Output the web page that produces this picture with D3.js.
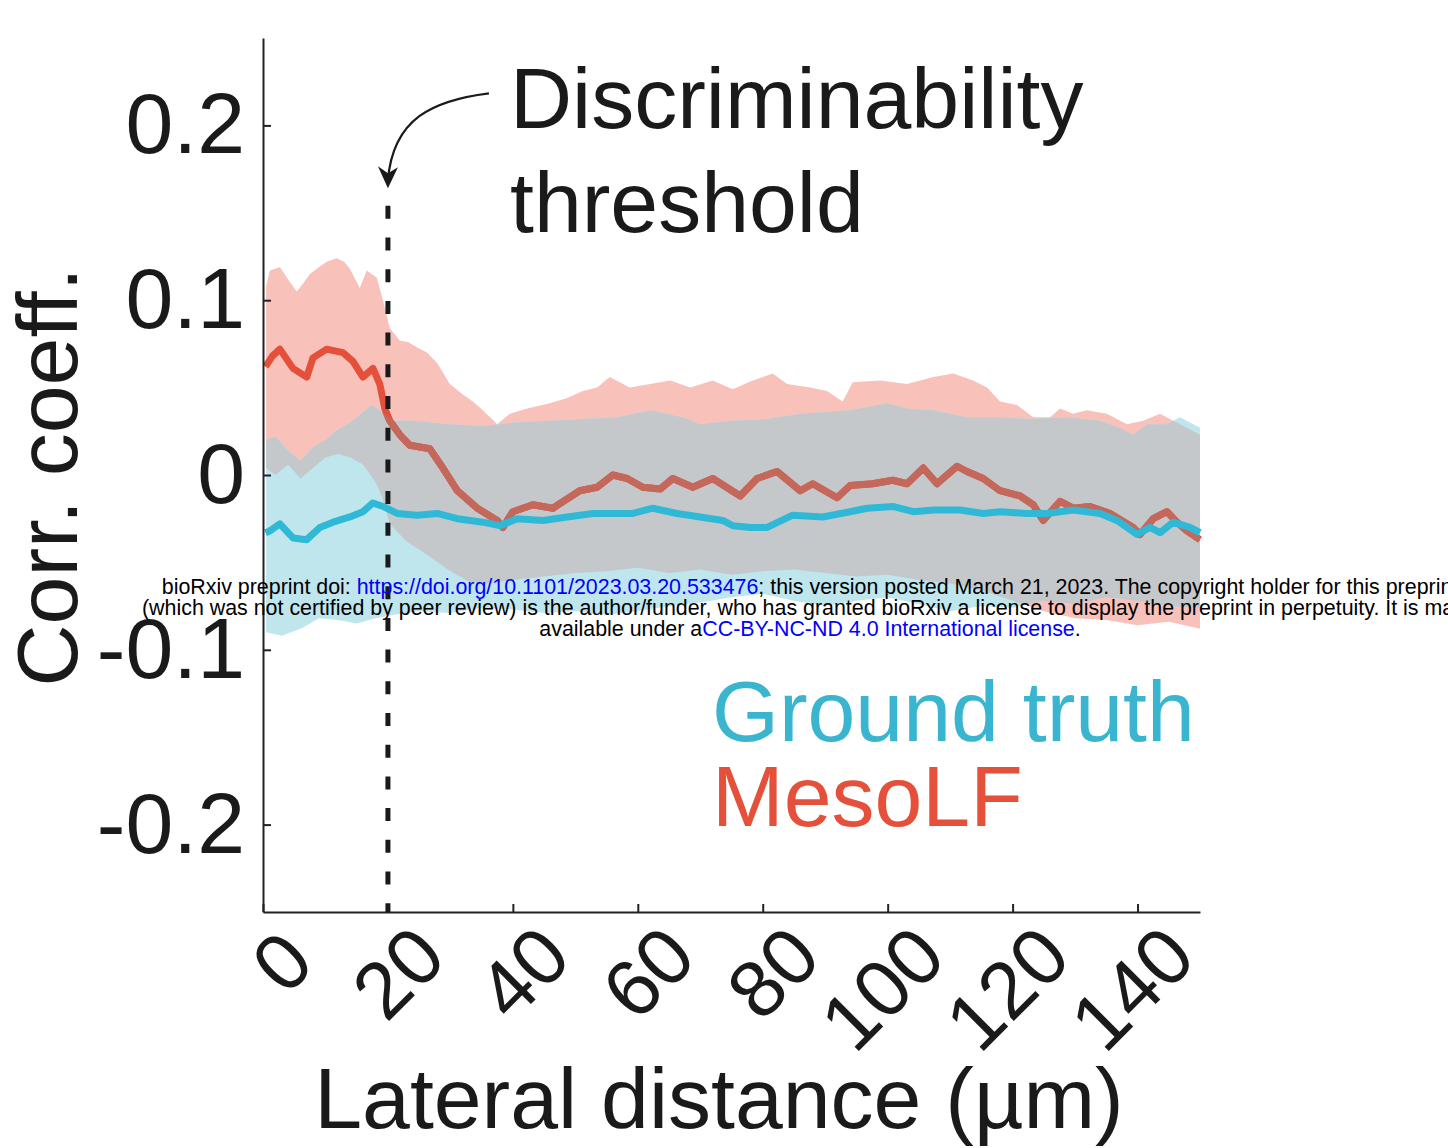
<!DOCTYPE html>
<html>
<head>
<meta charset="utf-8">
<script src="https://cdn.jsdelivr.net/npm/d3@7"></script>
<style>
  html, body { margin: 0; padding: 0; background: #fff; }
  svg { display: block; }
  text { font-family: "Liberation Sans", Arial, Helvetica, sans-serif; }
</style>
</head>
<body>
<svg id="chart" width="1448" height="1148"></svg>
<script>
// Lateral distance (µm) vs correlation coefficient: mean and spread for MesoLF and ground truth.
const xTicks = [0, 20, 40, 60, 80, 100, 120, 140];
const yTicks = [-0.2, -0.1, 0, 0.1, 0.2];
const thresholdDistance = 20;

const mesoMean = [[0.4,0.062],[1.5,0.068],[2.7,0.072],[4.8,0.061],[7.0,0.056],[8.0,0.067],[10.2,0.072],[12.8,0.070],[14.4,0.065],
  [16.0,0.056],[17.6,0.061],[18.7,0.052],[19.5,0.038],[20.3,0.031],[21.9,0.023],[23.5,0.017],[26.7,0.015],[28.8,0.004],
  [31.1,-0.009],[34.3,-0.019],[37.5,-0.026],[38.4,-0.030],[40.0,-0.021],[43.2,-0.017],[46.4,-0.019],[50.7,-0.009],
  [53.5,-0.007],[56.0,0.000],[58.3,-0.002],[60.8,-0.007],[63.6,-0.008],[65.6,-0.002],[68.8,-0.007],[72.0,-0.002],
  [76.4,-0.012],[79.1,-0.002],[82.3,0.002],[86.0,-0.009],[88.0,-0.005],[91.9,-0.013],[94.0,-0.006],[97.6,-0.005],
  [100.8,-0.003],[103.1,-0.005],[105.7,0.004],[107.9,-0.005],[111.1,0.005],[112.7,0.002],[115.3,-0.002],[118.0,-0.009],
  [121.2,-0.012],[123.3,-0.017],[124.9,-0.026],[127.6,-0.015],[129.7,-0.019],[132.4,-0.018],[135.6,-0.022],[139.3,-0.030],
  [140.4,-0.034],[142.5,-0.025],[144.7,-0.021],[146.3,-0.027],[147.9,-0.032],[150.0,-0.037]];

const truthMean = [[0.4,-0.033],[1.1,-0.032],[2.7,-0.028],[4.8,-0.036],[7.0,-0.037],[9.1,-0.030],[11.2,-0.027],[13.9,-0.024],
  [16.0,-0.021],[17.6,-0.016],[19.2,-0.018],[21.5,-0.022],[24.7,-0.023],[27.9,-0.022],[31.1,-0.025],[35.2,-0.027],
  [37.9,-0.029],[40.7,-0.025],[44.8,-0.026],[48.7,-0.024],[52.8,-0.022],[56.7,-0.022],[59.2,-0.022],[62.4,-0.019],
  [66.3,-0.022],[70.0,-0.024],[73.6,-0.026],[75.2,-0.029],[78.0,-0.030],[80.7,-0.030],[84.8,-0.023],[89.6,-0.024],
  [94.0,-0.021],[96.7,-0.019],[100.8,-0.018],[104.1,-0.021],[107.3,-0.020],[111.6,-0.020],[115.3,-0.022],[118.0,-0.021],
  [122.3,-0.022],[125.5,-0.022],[129.7,-0.020],[134.0,-0.022],[136.7,-0.026],[139.9,-0.034],[142.0,-0.030],[143.6,-0.033],
  [145.7,-0.027],[148.4,-0.030],[150.0,-0.033]];

const mesoUpper = [[0.5,0.108],[1.1,0.117],[2.7,0.119],[4.0,0.112],[5.4,0.105],[6.5,0.110],[7.5,0.115],[9.0,0.119],[10.2,0.122],
  [11.8,0.124],[13.0,0.122],[13.9,0.118],[15.5,0.107],[16.6,0.117],[18.2,0.113],[19.2,0.100],[20.3,0.084],[21.9,0.077],
  [23.3,0.076],[24.7,0.073],[26.3,0.070],[27.9,0.064],[29.9,0.052],[32.0,0.046],[33.6,0.042],[35.2,0.037],[37.5,0.029],
  [39.5,0.035],[42.3,0.038],[45.9,0.041],[48.7,0.044],[51.2,0.048],[53.5,0.050],[55.5,0.056],[58.7,0.050],[62.0,0.052],
  [65.2,0.054],[68.4,0.050],[72.0,0.054],[75.2,0.049],[78.4,0.054],[81.6,0.058],[83.9,0.052],[87.6,0.050],[90.3,0.048],
  [92.8,0.042],[94.4,0.053],[98.8,0.054],[103.1,0.052],[107.3,0.056],[110.5,0.058],[113.7,0.054],[115.9,0.050],[118.0,0.042],
  [120.7,0.040],[123.3,0.033],[126.0,0.033],[127.6,0.038],[129.7,0.035],[131.9,0.037],[135.1,0.035],[138.3,0.029],
  [140.9,0.031],[143.6,0.035],[145.7,0.031],[147.9,0.027],[150.0,0.023]];

const mesoLower = [[0.5,0.004],[2,0.000],[4,0.006],[6,-0.002],[8,0.004],[10,0.010],[12,0.012],[14,0.010],[16,0.006],[18,-0.004],
  [19,-0.012],[20.3,-0.028],[23,-0.038],[26,-0.045],[30,-0.055],[33,-0.061],[36,-0.062],[40,-0.060],[45,-0.058],[50,-0.056],
  [55,-0.055],[60,-0.053],[65,-0.056],[70,-0.054],[75,-0.057],[80,-0.055],[85,-0.054],[90,-0.056],[95,-0.058],[100,-0.057],
  [105,-0.060],[110,-0.062],[115,-0.066],[120,-0.072],[125,-0.078],[130,-0.082],[135,-0.083],[140,-0.086],[145,-0.084],[150,-0.088]];

const truthUpper = [[0.5,0.020],[2,0.022],[4,0.014],[6,0.008],[8,0.016],[10,0.020],[12,0.026],[14,0.030],[16,0.036],[17.5,0.040],
  [19,0.036],[21,0.031],[24,0.031],[27,0.030],[30,0.029],[35.2,0.028],[40,0.030],[45.9,0.031],[51,0.032],[56.7,0.033],
  [62.0,0.037],[67.2,0.033],[70.0,0.029],[75,0.031],[80.7,0.032],[86.0,0.035],[94.0,0.037],[99.9,0.041],[103.1,0.038],
  [107.3,0.037],[112.7,0.033],[118.0,0.033],[123.3,0.032],[128.7,0.033],[134.0,0.031],[137.2,0.027],[139.3,0.023],
  [141.5,0.029],[144.7,0.029],[146.8,0.033],[150.0,0.027]];

const truthLower = [[0.5,-0.090],[3,-0.092],[6,-0.088],[9,-0.082],[12,-0.083],[15,-0.085],[18,-0.082],[21,-0.080],[25,-0.078],
  [30,-0.079],[35,-0.076],[40,-0.077],[45,-0.079],[50,-0.078],[55,-0.080],[60,-0.078],[65,-0.075],[70,-0.073],[75,-0.070],
  [80,-0.068],[85,-0.072],[90,-0.075],[95,-0.072],[100,-0.070],[105,-0.074],[110,-0.078],[115,-0.075],[120,-0.076],
  [125,-0.072],[130,-0.074],[135,-0.070],[140,-0.072],[145,-0.075],[150,-0.076]];

const svg = d3.select("#chart");
const x = d3.scaleLinear().domain([0, 150]).range([263, 1200]);
const y = d3.scaleLinear().domain([-0.25, 0.25]).range([912, 38]);

const line = d3.line().x(d => x(d[0])).y(d => y(d[1]));
const band = (upper, lower) => line(upper.concat(lower.slice().reverse())) + "Z";

const defs = svg.append("defs");
defs.append("clipPath").attr("id", "mesoBandClip")
  .append("path").attr("d", band(mesoUpper, mesoLower));
defs.append("clipPath").attr("id", "truthBandClip")
  .append("path").attr("d", band(truthUpper, truthLower));

// spread bands; the overlap of the two is shown in grey
svg.append("path").attr("d", band(mesoUpper, mesoLower)).attr("fill", "#f8c2ba");
svg.append("path").attr("d", band(truthUpper, truthLower)).attr("fill", "#bfe5ed");
svg.append("path").attr("d", band(truthUpper, truthLower)).attr("fill", "#c5c8ca")
  .attr("clip-path", "url(#mesoBandClip)");

// MesoLF mean: bright outside the ground-truth band, muted inside it
svg.append("path").attr("d", line(mesoMean)).attr("fill", "none")
  .attr("stroke", "#e4503a").attr("stroke-width", 7).attr("stroke-linejoin", "round");
svg.append("path").attr("d", line(mesoMean)).attr("fill", "none")
  .attr("stroke", "#c4685c").attr("stroke-width", 7).attr("stroke-linejoin", "round")
  .attr("clip-path", "url(#truthBandClip)");

// ground truth mean
svg.append("path").attr("d", line(truthMean)).attr("fill", "none")
  .attr("stroke", "#2fb9d6").attr("stroke-width", 7).attr("stroke-linejoin", "round");

// axes
const fontMain = 86;
const yAxis = svg.append("g").attr("transform", `translate(${x(0)},0)`)
  .call(d3.axisLeft(y).tickValues(yTicks).tickSize(-8).tickSizeOuter(0).tickPadding(18)
    .tickFormat(d => d === 0 ? "0" : d.toFixed(1)));
yAxis.select(".domain").attr("stroke", "#222").attr("stroke-width", 2);
yAxis.selectAll(".tick line").attr("stroke", "#222").attr("stroke-width", 2);
yAxis.selectAll(".tick text").attr("font-size", fontMain).attr("fill", "#1a1a1a")
  .attr("font-family", "'Liberation Sans', Arial, sans-serif");

const xAxis = svg.append("g").attr("transform", `translate(0,${y(-0.25)})`)
  .call(d3.axisBottom(x).tickValues(xTicks).tickSize(-8).tickSizeOuter(0));
xAxis.select(".domain").attr("stroke", "#222").attr("stroke-width", 2);
xAxis.selectAll(".tick line").attr("stroke", "#222").attr("stroke-width", 2);
xAxis.selectAll(".tick text")
  .attr("font-size", 80).attr("fill", "#1a1a1a")
  .attr("font-family", "'Liberation Sans', Arial, sans-serif")
  .attr("text-anchor", "end").attr("x", 0).attr("y", 0).attr("dy", "0.35em")
  .attr("transform", d => d === 0 ? "translate(34,34) rotate(-45)" : "translate(41,29) rotate(-45)");

// axis titles
svg.append("text").attr("transform", `translate(77,${(y(0.25) + y(-0.25)) / 2 + 2}) rotate(-90)`)
  .attr("text-anchor", "middle").attr("font-size", fontMain).attr("fill", "#1a1a1a")
  .text("Corr. coeff.");
svg.append("text").attr("x", 719).attr("y", 1128)
  .attr("text-anchor", "middle").attr("font-size", fontMain).attr("fill", "#1a1a1a")
  .text("Lateral distance (µm)");

// discriminability threshold marker
svg.append("line")
  .attr("x1", x(thresholdDistance)).attr("x2", x(thresholdDistance))
  .attr("y1", y(0.154)).attr("y2", y(-0.25))
  .attr("stroke", "#1a1a1a").attr("stroke-width", 5).attr("stroke-dasharray", "13,18.7");

const tipX = x(thresholdDistance), tipY = y(0.164);
svg.append("path")
  .attr("d", `M${tipX + 101},${tipY - 95} C${tipX + 45},${tipY - 88} ${tipX + 5},${tipY - 70} ${tipX},${tipY - 8}`)
  .attr("fill", "none").attr("stroke", "#1a1a1a").attr("stroke-width", 2.2);
svg.append("path")
  .attr("d", `M${tipX},${tipY} L${tipX - 10},${tipY - 22} L${tipX},${tipY - 15} L${tipX + 10},${tipY - 21} Z`)
  .attr("fill", "#1a1a1a");

svg.append("text").attr("x", 510).attr("y", 128).attr("font-size", fontMain).attr("fill", "#1a1a1a")
  .text("Discriminability");
svg.append("text").attr("x", 510).attr("y", 232).attr("font-size", fontMain).attr("fill", "#1a1a1a")
  .text("threshold");

// legend
svg.append("text").attr("x", 712).attr("y", 741).attr("font-size", fontMain).attr("fill", "#3ab5cf")
  .text("Ground truth");
svg.append("text").attr("x", 712).attr("y", 826).attr("font-size", fontMain).attr("fill", "#e4503a")
  .text("MesoLF");

// preprint notice
const notice = svg.append("g").attr("font-size", 21.4).attr("fill", "#000").attr("text-anchor", "middle");
const l1 = notice.append("text").attr("x", 810).attr("y", 594);
l1.append("tspan").text("bioRxiv preprint doi: ");
l1.append("tspan").attr("fill", "#0000ff").text("https://doi.org/10.1101/2023.03.20.533476");
l1.append("tspan").text("; this version posted March 21, 2023. The copyright holder for this preprint");
notice.append("text").attr("x", 810).attr("y", 615)
  .text("(which was not certified by peer review) is the author/funder, who has granted bioRxiv a license to display the preprint in perpetuity. It is made");
const l3 = notice.append("text").attr("x", 810).attr("y", 636);
l3.append("tspan").text("available under a");
l3.append("tspan").attr("fill", "#0000ff").text("CC-BY-NC-ND 4.0 International license");
l3.append("tspan").text(".");
</script>
</body>
</html>
